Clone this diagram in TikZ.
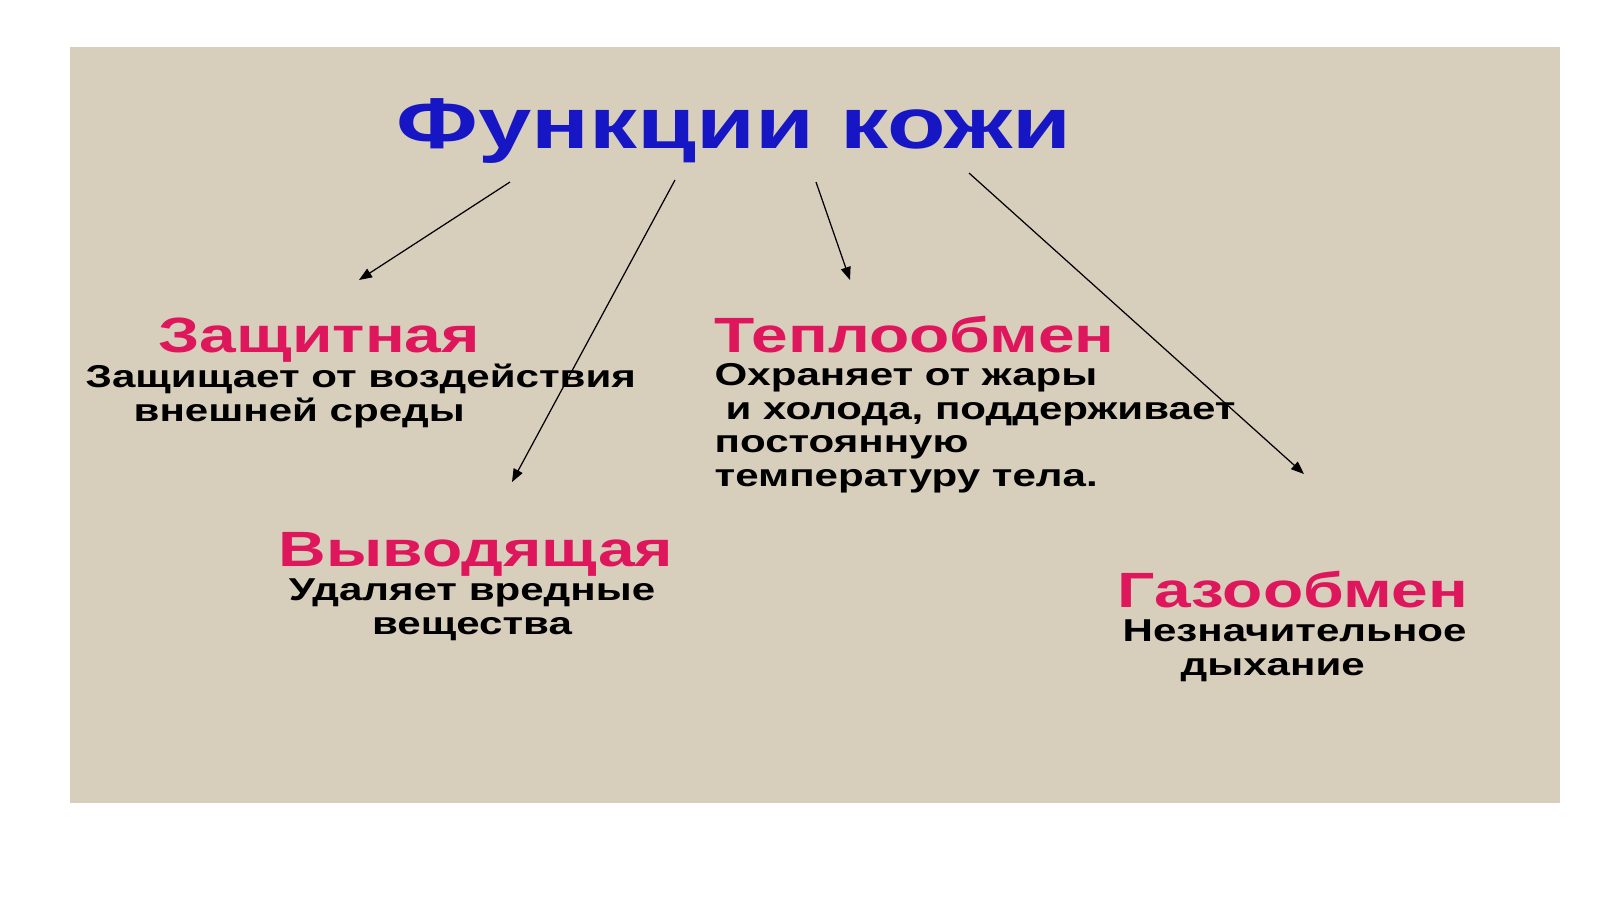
\documentclass[tikz,border=0pt]{standalone}
\usepackage{fontspec}
\setmainfont{Liberation Sans}
\newfontfamily\widefont[FakeStretch=1.33]{Liberation Sans Bold}
\usetikzlibrary{arrows.meta}
\definecolor{canvas}{RGB}{216,206,188}
\definecolor{titleblue}{RGB}{22,22,196}
\definecolor{headpink}{RGB}{222,22,92}
\tikzset{
  heading/.style={anchor=base west,inner sep=0pt,text=headpink,font=\widefont\fontsize{14.1}{16}\selectfont},
  descr/.style={anchor=base west,inner sep=0pt,align=left,font=\widefont\fontsize{9}{9.5}\selectfont},
  arr/.style={-{Triangle[length=1.3mm,width=1mm]},line width=0.35pt}
}
\begin{document}
\begin{tikzpicture}[x=0.1mm,y=-0.1mm]
\useasboundingbox (0,0) rectangle (1600,899);
\fill[canvas] (70,47) rectangle (1560,803);

\node[anchor=base,inner sep=0pt,text=titleblue,font=\widefont\fontsize{20.5}{24}\selectfont] (title) at (734,148) {Функции кожи};

% four functions (text nodes sit on the baseline of their last line)
\node[heading] (zasch) at (158,352) {Защитная};
\node[descr] (zaschtxt) at (85,421) {Защищает от воздействия\\\hspace*{4.8mm}внешней среды};

\node[heading] (teplo) at (714,352) {Теплообмен};
\node[descr] (teplotxt) at (714,486) {Охраняет от жары\\\hspace*{1.1mm}и холода, поддерживает\\постоянную\\температуру тела.};

\node[heading] (vyvod) at (278,566) {Выводящая};
\node[descr,align=center,anchor=base] (vyvodtxt) at (472,634) {Удаляет вредные\\вещества};

\node[heading] (gaz) at (1117,607) {Газообмен};
\node[descr] (gaztxt) at (1122,675) {Незначительное\\\hspace*{5.8mm}дыхание};

% arrows from the title
\coordinate (from1) at (510,182); \coordinate (to1) at (359,280);
\coordinate (from2) at (675,180); \coordinate (to2) at (512,482);
\coordinate (from3) at (816,182); \coordinate (to3) at (850,280);
\coordinate (from4) at (969,173); \coordinate (to4) at (1304,474);
\foreach \i in {1,...,4}
\draw[arr] (from\i) -- (to\i);
\end{tikzpicture}
\end{document}
